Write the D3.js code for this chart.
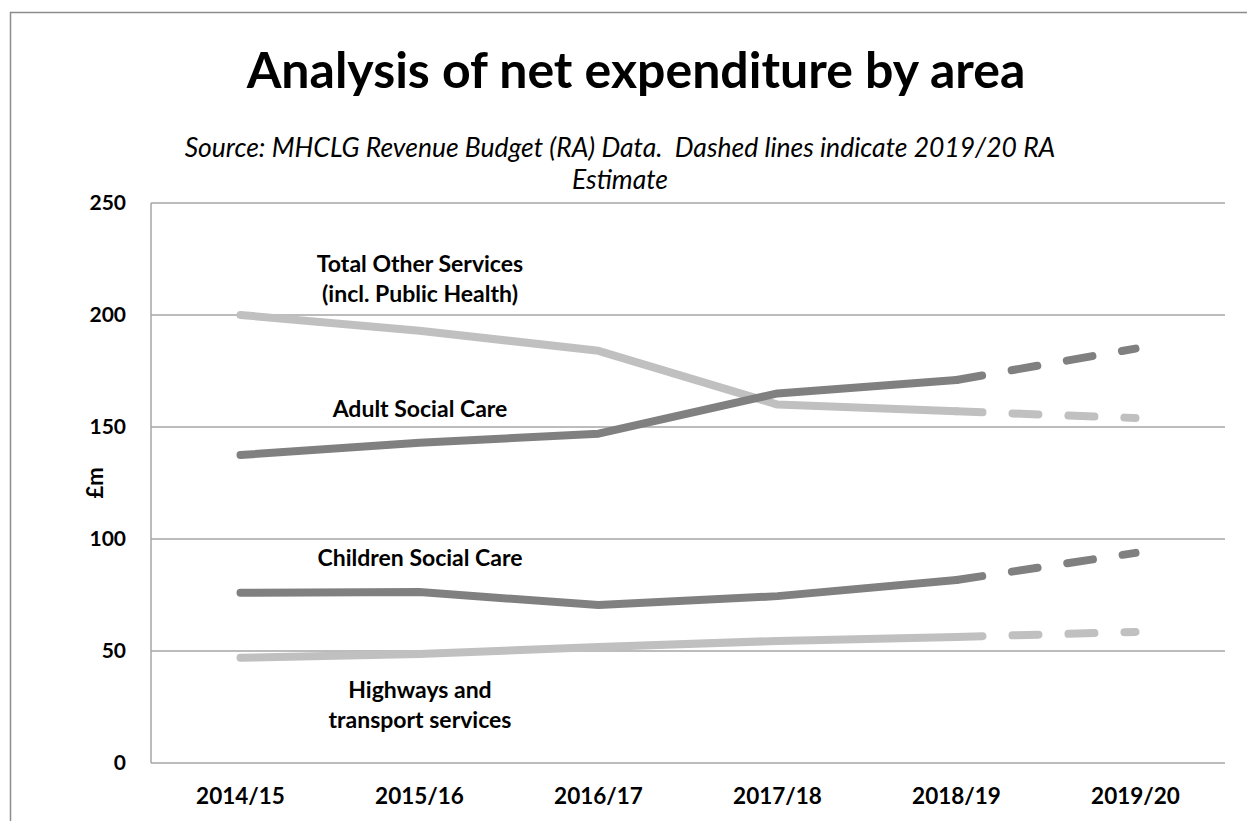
<!DOCTYPE html>
<html>
<head>
<meta charset="utf-8">
<script src="https://cdn.jsdelivr.net/npm/d3@7"></script>
<style>
  body { margin: 0; background: #fff; }
  text { font-family: Lato, "Open Sans", sans-serif; }
</style>
</head>
<body>
<div id="chart"></div>
<script>
// values (£m)
const years = ['2014/15', '2015/16', '2016/17', '2017/18', '2018/19', '2019/20']
const otherServices = [200, 193, 184, 160, 157, 154]
const adultCare = [137.5, 143, 147, 165, 171, 185]
const childrenCare = [76, 76.3, 70.5, 74.5, 81.7, 93.8]
const highways = [47, 48.7, 51.8, 54.5, 56.3, 58.5]
const yTicks = [0, 50, 100, 150, 200, 250]

const series = [
    { name: 'other', values: otherServices, color: '#c0c0c0' },
    { name: 'adult', values: adultCare, color: '#808080' },
    { name: 'children', values: childrenCare, color: '#808080' },
    { name: 'highways', values: highways, color: '#c0c0c0' }
]

const labels = [
    { lines: ['Total Other Services', '(incl. Public Health)'], x: 420, y: 272 },
    { lines: ['Adult Social Care'], x: 420, y: 417 },
    { lines: ['Children Social Care'], x: 420, y: 566 },
    { lines: ['Highways and', 'transport services'], x: 420, y: 698 }
]

const width = 1247
const height = 821
const margin = { left: 151, right: 22, top: 203, bottom: 58 }

const svg = d3.select('#chart')
    .append('svg')
    .attr('width', width)
    .attr('height', height)

// outer chart frame
svg.append('rect')
    .attr('x', 10.5)
    .attr('y', 12.5)
    .attr('width', width)
    .attr('height', height)
    .attr('fill', 'none')
    .attr('stroke', '#8c8c8c')
    .attr('stroke-width', 1.5)

const x = d3.scaleBand()
    .domain(years)
    .range([margin.left, width - margin.right])

const y = d3.scaleLinear()
    .domain([0, 250])
    .range([height - margin.bottom, margin.top])

// gridlines
svg.append('g')
    .selectAll('line')
    .data(yTicks)
    .join('line')
    .attr('x1', margin.left)
    .attr('x2', width - margin.right)
    .attr('y1', d => y(d))
    .attr('y2', d => y(d))
    .attr('stroke', '#a6a6a6')
    .attr('stroke-width', 1.5)

svg.append('line')
    .attr('x1', margin.left)
    .attr('x2', margin.left)
    .attr('y1', y(0))
    .attr('y2', y(250))
    .attr('stroke', '#a6a6a6')
    .attr('stroke-width', 1.5)

// y tick labels
svg.append('g')
    .selectAll('text')
    .data(yTicks)
    .join('text')
    .attr('x', margin.left - 25)
    .attr('y', d => y(d))
    .attr('dy', '0.35em')
    .attr('text-anchor', 'end')
    .attr('font-size', 21)
    .attr('font-weight', 'bold')
    .text(d => d)

// x labels
svg.append('g')
    .selectAll('text')
    .data(years)
    .join('text')
    .attr('x', d => x(d) + x.bandwidth() / 2)
    .attr('y', y(0) + 41)
    .attr('text-anchor', 'middle')
    .attr('font-size', 22.5)
    .attr('font-weight', 'bold')
    .text(d => d)

svg.append('text')
    .attr('transform', `translate(103, ${y(125)}) rotate(-90)`)
    .attr('text-anchor', 'middle')
    .attr('font-size', 22)
    .attr('font-weight', 'bold')
    .text('£m')

const line = d3.line()
    .x((d, i) => x(years[i]) + x.bandwidth() / 2)
    .y(d => y(d))

const lines = svg.append('g')

series.forEach(s => {
    // actuals: solid up to 2018/19
    lines.append('path')
        .datum(s.values)
        .attr('d', line.defined((d, i) => i <= 4))
        .attr('fill', 'none')
        .attr('stroke', s.color)
        .attr('stroke-width', 8)
        .attr('stroke-linecap', 'round')
        .attr('stroke-linejoin', 'round')
    // 2019/20 estimate: dashed
    lines.append('path')
        .datum(s.values)
        .attr('d', line.defined((d, i) => i >= 4))
        .attr('fill', 'none')
        .attr('stroke', s.color)
        .attr('stroke-width', 8)
        .attr('stroke-linecap', 'round')
        .attr('stroke-dasharray', '26 30')
})

// series labels
labels.forEach(l => {
    const t = svg.append('text')
        .attr('text-anchor', 'middle')
        .attr('font-size', 23)
        .attr('font-weight', 'bold')
    l.lines.forEach((s, i) => {
        t.append('tspan')
            .attr('x', l.x)
            .attr('y', l.y + i * 30)
            .text(s)
    })
})

svg.append('text')
    .attr('x', 636)
    .attr('y', 88)
    .attr('text-anchor', 'middle')
    .attr('font-size', 50)
    .attr('font-weight', 'bold')
    .text('Analysis of net expenditure by area')

svg.append('text')
    .attr('x', 620)
    .attr('y', 157)
    .attr('text-anchor', 'middle')
    .attr('font-size', 26.5)
    .attr('font-style', 'italic')
    .text('Source: MHCLG Revenue Budget (RA) Data.\u00a0 Dashed lines indicate 2019/20 RA')

svg.append('text')
    .attr('x', 620)
    .attr('y', 189)
    .attr('text-anchor', 'middle')
    .attr('font-size', 26.5)
    .attr('font-style', 'italic')
    .text('Estimate')
</script>
</body>
</html>
